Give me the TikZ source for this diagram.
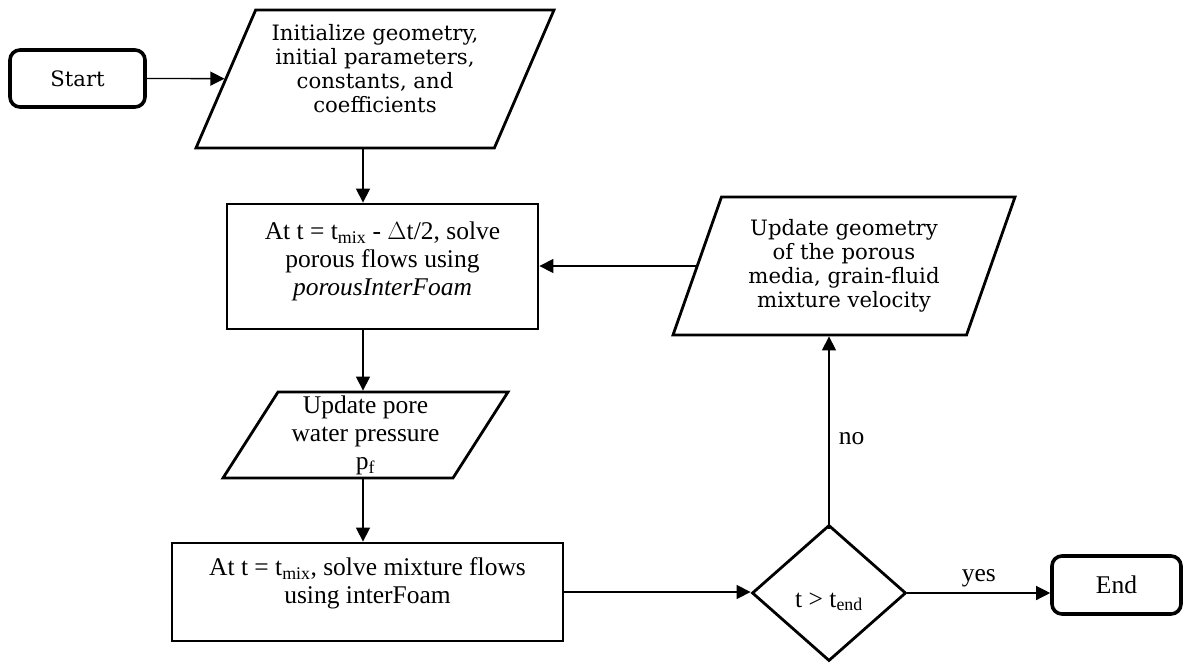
\documentclass[tikz,border=0pt]{standalone}
\usepackage{fontspec}
\setmainfont{Liberation Serif}
\newfontfamily\georgiaFont{DejaVu Serif}
\usetikzlibrary{arrows.meta,shapes.geometric}
\newcommand{\boxLine}{2.8pt}
\newcommand{\arrowLine}{1.3pt}
\newcommand{\mainSize}{\fontsize{25.5}{28}\selectfont}
\newcommand{\georgiaSize}{\georgiaFont\fontsize{21.2}{24}\selectfont}
\newcommand{\tSub}[1]{\textsubscript{#1}}

\tikzset{
  flowArrow/.style={draw, line width=\arrowLine, -{Triangle[length=14pt,width=14pt]}},
  terminal/.style={draw, line width=3.6pt, rounded corners=10pt, align=center},
  process/.style={draw, line width=\boxLine, rectangle, align=center, font=\mainSize},
  ioBox/.style={draw, line width=\boxLine, trapezium, trapezium stretches body, align=center, inner sep=2pt},
  decision/.style={draw, line width=\boxLine, diamond, align=center, font=\mainSize, inner sep=0pt}
}

\begin{document}
\begin{tikzpicture}[x=1pt, y=-1pt]
\useasboundingbox (0,0) rectangle (1195,662);
\coordinate (spine) at (363,0);

\node[terminal, minimum width=135pt, minimum height=57pt, font=\georgiaSize] (start) at (77.5,78.5) {Start};
\node[ioBox, trapezium left angle=62.4, trapezium right angle=117.6, minimum width=358pt, minimum height=138pt, font=\georgiaSize, text depth=22pt] (init) at (375,79) {Initialize geometry,\\ initial parameters,\\ constants, and\\ coefficients};
\node[process, minimum width=311pt, minimum height=125pt, text depth=15pt] (solve) at (382.5,266.5) {At t = t\tSub{mix} - $\Delta$t/2, solve\\ porous flows using\\ \textit{porousInterFoam}};
\node[ioBox, trapezium left angle=56.5, trapezium right angle=123.5, minimum width=285pt, minimum height=86pt, font=\mainSize] (pore) at (365.5,435) {Update pore\\ water pressure\\ p\tSub{f}};
\node[process, minimum width=391pt, minimum height=98pt, text depth=23pt] (mix) at (367.5,592) {At t = t\tSub{mix}, solve mixture flows\\ using interFoam};
\node[decision, minimum width=154pt, minimum height=136pt, text height=32pt] (check) at (829,593) {t > t\tSub{end}};
\node[terminal, minimum width=129pt, minimum height=58pt, font=\mainSize] (end) at (1116.5,585) {End};
\node[ioBox, trapezium left angle=63.4, trapezium right angle=116.6, minimum width=342pt, minimum height=138pt, font=\georgiaSize] (geom) at (844,266) {Update geometry\\ of the porous\\ media, grain-fluid\\ mixture velocity};

\draw[flowArrow] (start.east) -- (init);
\draw[flowArrow] (init.south -| spine) -- (solve.north -| spine);
\draw[flowArrow] (solve.south -| spine) -- (pore.north -| spine);
\draw[flowArrow] (pore.south -| spine) -- (mix.north -| spine);
\draw[flowArrow] (mix.east) -- (mix.east -| check.west);
\draw[flowArrow] (check.east) -- node[above, font=\mainSize, yshift=2pt] {yes} (check.east -| end.west);
\draw[flowArrow] ([yshift=-5pt]check.north) -- node[right, font=\mainSize, pos=0.47, xshift=6pt] {no} (check.north |- geom.south);
\draw[flowArrow] (geom.west) -- (solve.east |- geom.west);
\end{tikzpicture}
\end{document}
